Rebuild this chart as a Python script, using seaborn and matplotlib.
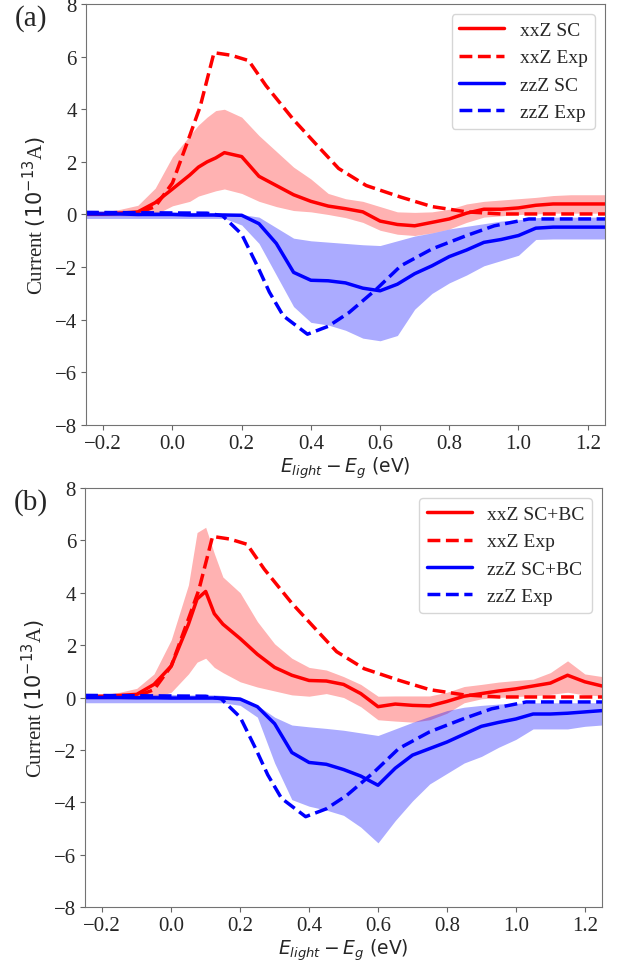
import numpy as np
import seaborn as sns
import matplotlib.pyplot as plt

# photon energy grid (eV), shared by the simulated curves
energy = [-0.25, -0.2, -0.15, -0.1, -0.05, 0.0, 0.05, 0.075, 0.1, 0.125, 0.15,
          0.2, 0.25, 0.3, 0.35, 0.4, 0.45, 0.5, 0.55, 0.6, 0.65,
          0.7, 0.75, 0.8, 0.85, 0.9, 0.95, 1.0, 1.05, 1.1, 1.15, 1.2, 1.25]

# (a) shift current only
xx_sc = [0.02, 0.02, 0.05, 0.1, 0.45, 0.97, 1.5, 1.8, 2.0, 2.15, 2.35,
         2.2, 1.45, 1.1, 0.75, 0.5, 0.32, 0.22, 0.1, -0.25, -0.38,
         -0.43, -0.3, -0.17, 0.05, 0.2, 0.2, 0.25, 0.35, 0.4, 0.4, 0.4, 0.4]
xx_sc_hi = [0.05, 0.1, 0.2, 0.35, 1.0, 2.2, 3.0, 3.4, 3.7, 3.95, 4.0,
            3.7, 3.0, 2.4, 1.8, 1.35, 0.8, 0.6, 0.5, 0.3, 0.1,
            0.08, 0.1, 0.2, 0.4, 0.5, 0.55, 0.6, 0.65, 0.72, 0.75, 0.75, 0.75]
xx_sc_lo = [-0.05, -0.05, -0.05, -0.05, 0.0, 0.33, 0.5, 0.7, 0.8, 0.9, 0.97,
            0.8, 0.5, 0.3, 0.15, 0.1, 0.0, -0.12, -0.3, -0.6, -0.75,
            -0.8, -0.7, -0.55, -0.3, -0.1, -0.05, 0.0, 0.02, 0.05, 0.05, 0.05, 0.05]
zz_sc = [0.02, 0.02, 0.02, 0.0, 0.0, 0.0, -0.02, -0.02, -0.02, -0.02, -0.02,
         -0.03, -0.35, -1.1, -2.2, -2.5, -2.52, -2.6, -2.8, -2.9, -2.65,
         -2.25, -1.95, -1.6, -1.35, -1.06, -0.95, -0.8, -0.52, -0.48, -0.48, -0.48, -0.48]
zz_sc_hi = [0.15, 0.15, 0.15, 0.12, 0.12, 0.1, 0.08, 0.08, 0.06, 0.06, 0.05,
            0.0, -0.1, -0.5, -0.9, -1.0, -1.05, -1.1, -1.15, -1.18, -1.0,
            -0.82, -0.7, -0.55, -0.45, -0.35, -0.25, -0.2, -0.12, -0.1, -0.1, -0.1, -0.1]
zz_sc_lo = [-0.15, -0.15, -0.15, -0.15, -0.15, -0.15, -0.15, -0.15, -0.15, -0.15, -0.15,
            -0.4, -1.1, -2.3, -3.5, -4.1, -4.2, -4.4, -4.7, -4.8, -4.6,
            -3.6, -3.0, -2.6, -2.3, -1.95, -1.75, -1.55, -0.95, -0.93, -0.93, -0.93, -0.93]

# (b) shift + ballistic current
xx_bc = [0.05, 0.05, 0.08, 0.12, 0.5, 1.2, 2.8, 3.76, 4.05, 3.2, 2.8,
         2.25, 1.65, 1.15, 0.85, 0.65, 0.63, 0.5, 0.15, -0.35, -0.25,
         -0.3, -0.32, -0.15, 0.05, 0.15, 0.25, 0.33, 0.44, 0.55, 0.85, 0.6, 0.44]
xx_bc_hi = [0.1, 0.12, 0.2, 0.35, 0.9, 2.2, 4.3, 6.3, 6.5, 5.5, 4.6,
            4.0, 2.9, 2.05, 1.5, 1.15, 1.05, 0.8, 0.5, 0.05, 0.06,
            0.06, 0.06, 0.2, 0.42, 0.5, 0.59, 0.65, 0.7, 0.95, 1.4, 0.9, 0.8]
xx_bc_lo = [-0.05, -0.05, -0.05, -0.05, 0.0, 0.2, 0.9, 1.35, 1.5, 1.15, 0.95,
            0.6, 0.4, 0.25, 0.1, 0.05, 0.15, 0.0, -0.35, -0.85, -0.9,
            -0.94, -0.85, -0.6, -0.2, -0.05, 0.0, 0.04, 0.06, 0.12, 0.2, 0.1, 0.06]
zz_bc = [0.0, 0.0, 0.0, -0.01, -0.01, -0.02, -0.02, -0.02, -0.02, -0.02, -0.02,
         -0.06, -0.35, -1.0, -2.1, -2.48, -2.55, -2.75, -3.0, -3.35, -2.7,
         -2.2, -1.95, -1.7, -1.4, -1.1, -0.95, -0.82, -0.63, -0.63, -0.6, -0.55, -0.5]
zz_bc_hi = [0.12, 0.12, 0.12, 0.12, 0.12, 0.12, 0.1, 0.1, 0.1, 0.1, 0.08,
            0.0, -0.3, -0.75, -1.05, -1.12, -1.18, -1.25, -1.35, -1.45, -1.2,
            -0.95, -0.72, -0.5, -0.37, -0.3, -0.25, -0.22, -0.2, -0.2, -0.2, -0.2, -0.2]
zz_bc_lo = [-0.2, -0.2, -0.2, -0.2, -0.2, -0.2, -0.2, -0.2, -0.2, -0.2, -0.2,
            -0.3, -0.75, -2.5, -3.9, -4.15, -4.3, -4.5, -4.95, -5.55, -4.7,
            -3.95, -3.3, -2.9, -2.5, -2.25, -1.9, -1.6, -1.2, -1.2, -1.2, -1.1, -1.05]

# experiment (same in both panels)
exp_xx_e = [-0.25, -0.1, -0.05, 0.0, 0.05, 0.08, 0.12, 0.17, 0.22, 0.27, 0.35,
            0.42, 0.48, 0.56, 0.66, 0.75, 0.85, 0.95, 1.25]
exp_xx = [0.05, 0.05, 0.3, 1.2, 3.0, 4.1, 6.15, 6.05, 5.85, 4.9, 3.6,
          2.6, 1.75, 1.1, 0.66, 0.3, 0.1, 0.02, 0.02]
exp_zz_e = [-0.25, 0.1, 0.145, 0.2, 0.245, 0.28, 0.32, 0.39, 0.45, 0.51,
            0.59, 0.66, 0.75, 0.85, 0.93, 1.03, 1.25]
exp_zz = [0.08, 0.05, -0.05, -0.75, -1.95, -2.95, -3.85, -4.55, -4.25, -3.73,
          -2.83, -1.95, -1.31, -0.8, -0.43, -0.17, -0.17]

sns.set_style('ticks')
plt.rcParams['font.family'] = ['Liberation Serif', 'DejaVu Serif']
plt.rcParams['mathtext.fontset'] = 'dejavusans'

fig = plt.figure(figsize=(6.3, 9.62), dpi=100)
ax_a = fig.add_axes([0.1365, 0.5572, 0.8238, 0.4376])
ax_b = fig.add_axes([0.135, 0.0561, 0.8206, 0.4356])

panels = [
    (ax_a, '(a)', 'SC', xx_sc, xx_sc_lo, xx_sc_hi, zz_sc, zz_sc_lo, zz_sc_hi),
    (ax_b, '(b)', 'SC+BC', xx_bc, xx_bc_lo, xx_bc_hi, zz_bc, zz_bc_lo, zz_bc_hi),
]

for ax, tag, name, xx, xx_lo, xx_hi, zz, zz_lo, zz_hi in panels:
    ax.fill_between(energy, xx_lo, xx_hi, color='red', alpha=0.3, lw=0)
    ax.fill_between(energy, zz_lo, zz_hi, color='blue', alpha=0.33, lw=0)
    sns.lineplot(x=energy, y=xx, color='red', lw=2.5, ax=ax, label=f'xxZ {name}')
    sns.lineplot(x=exp_xx_e, y=exp_xx, color='red', lw=2.5, linestyle='--', ax=ax,
                 label='xxZ Exp')
    sns.lineplot(x=energy, y=zz, color='blue', lw=2.5, ax=ax, label=f'zzZ {name}')
    sns.lineplot(x=exp_zz_e, y=exp_zz, color='blue', lw=2.5, linestyle='--', ax=ax,
                 label='zzZ Exp')

    ax.set_xlim(-0.25, 1.25)
    ax.set_ylim(-8, 8)
    ax.set_xticks(np.arange(-0.2, 1.21, 0.2))
    ax.set_yticks(np.arange(-8, 9, 2))
    ax.tick_params(labelsize=15, color='0.4', pad=3)
    for sp in ax.spines.values():
        sp.set_color('0.45')
    ax.set_xlabel(r'$E_{light} - E_g$ (eV)', fontsize=13.5, family='DejaVu Sans',
                  labelpad=1)
    ax.set_ylabel(r'Current $(10^{-13}$A$)$', fontsize=15)
    ax.legend(loc='upper right', fontsize=14, handlelength=2.3)
    ax.text(-0.137, 1.0, tag, transform=ax.transAxes, fontsize=21, va='top')

plt.savefig('out.png', dpi=100)
